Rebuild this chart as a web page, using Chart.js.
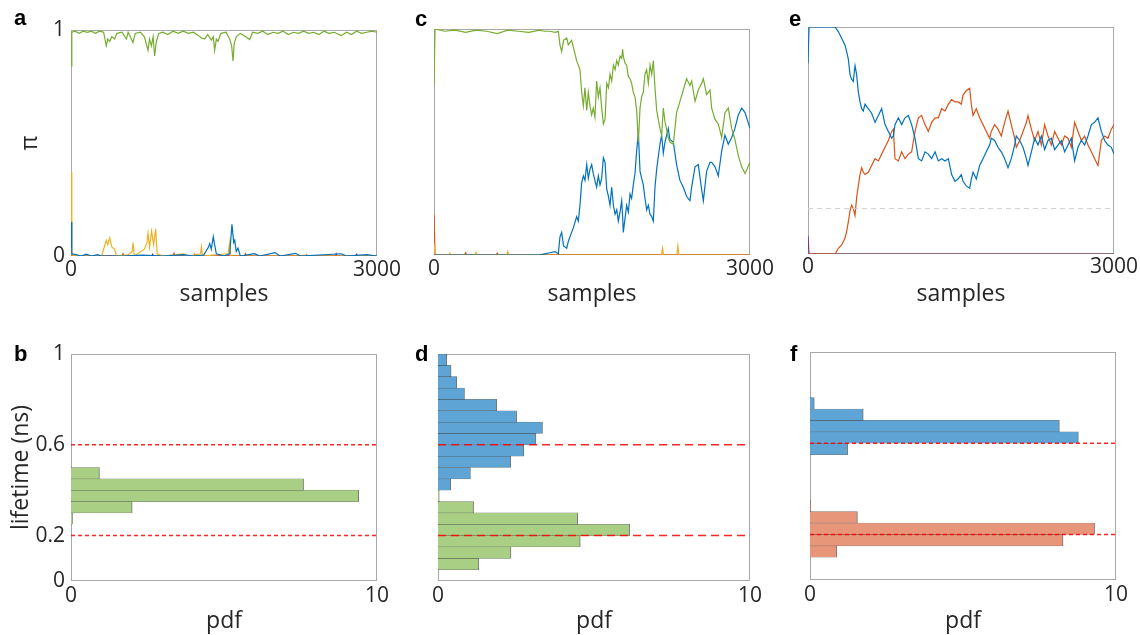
<!DOCTYPE html>
<html>
<head>
<meta charset="utf-8">
<script src="https://cdn.jsdelivr.net/npm/chart.js@4.4.1/dist/chart.umd.min.js"></script>
<style>
  html, body { margin: 0; padding: 0; background: #fff; width: 1140px; height: 635px; overflow: hidden; position: relative; }
  canvas { position: absolute; }
  .tag { position: absolute; font: bold 22px 'Liberation Sans', Arial, sans-serif; line-height: 22px; color: #000; }
</style>
</head>
<body>
<canvas id="chartA" width="410" height="320" style="left:0;top:0"></canvas>
<canvas id="chartC" width="400" height="320" style="left:380px;top:0"></canvas>
<canvas id="chartE" width="380" height="320" style="left:760px;top:0"></canvas>
<canvas id="chartB" width="400" height="340" style="left:0;top:320px"></canvas>
<canvas id="chartD" width="400" height="340" style="left:380px;top:320px"></canvas>
<canvas id="chartF" width="380" height="340" style="left:760px;top:320px"></canvas>
<div class="tag" style="left:14px;top:7px">a</div>
<div class="tag" style="left:415px;top:8px">c</div>
<div class="tag" style="left:789px;top:8px">e</div>
<div class="tag" style="left:14px;top:343px">b</div>
<div class="tag" style="left:415px;top:343px">d</div>
<div class="tag" style="left:790px;top:343px">f</div>
<script>
// ticks
const sampleTicks = [0, 3000];
const piTicks = [0, 1];
const lifeTicks = [0, 0.2, 0.6, 1];
const pdfTicks = [0, 10];
const lifetimeRefs = [0.2, 0.6];

// panel a traces
const aGreenX = [0,8,40,80,120,160,200,240,280,320,346,360,380,400,428,450,500,543,560,608,630,680,720,755,770,788,805,820,837,860,900,950,1000,1050,1100,1150,1200,1250,1278,1310,1340,1376,1395,1408,1425,1441,1470,1520,1556,1575,1588,1600,1620,1660,1700,1752,1780,1830,1880,1930,1980,2030,2080,2130,2180,2230,2280,2330,2380,2430,2480,2530,2580,2650,2700,2750,2800,2850,2900,2950,3000];
const aGreenY = [0.84,0.99,0.995,0.985,0.995,0.99,0.995,0.985,0.995,0.99,0.93,0.96,0.95,0.97,0.96,0.985,0.99,0.96,0.99,0.945,0.985,0.99,0.97,0.91,0.96,0.93,0.97,0.885,0.95,0.985,0.99,0.98,0.995,0.985,0.995,0.985,0.99,0.975,0.965,0.96,0.98,0.955,0.97,0.91,0.96,0.95,0.985,0.99,0.96,0.93,0.863,0.94,0.97,0.985,0.975,0.958,0.99,0.985,0.995,0.98,0.99,0.985,0.995,0.98,0.99,0.985,0.995,0.985,0.99,0.98,0.995,0.985,0.99,0.975,0.99,0.98,0.995,0.985,0.99,0.995,0.99];
const aBlueX = [0,8,60,100,150,200,260,300,500,700,900,1100,1200,1300,1343,1360,1375,1395,1408,1425,1500,1556,1578,1595,1605,1620,1637,1660,1800,1850,2000,2050,2200,2250,2650,2700,2900,3000];
const aBlueY = [0.15,0.01,0.005,0,0.008,0,0.006,0,0,0.004,0,0.006,0,0.004,0.035,0.055,0.03,0.085,0.05,0.01,0,0.01,0.14,0.06,0.07,0.02,0.035,0,0.01,0,0.015,0,0.012,0,0.01,0,0.006,0];
const aYellowX = [0,8,100,300,346,360,380,400,428,445,560,600,608,620,720,745,755,770,790,810,830,845,900,1100,1150,1270,1278,1290,1540,1556,1565,3000];
const aYellowY = [0.37,0.005,0,0,0.07,0.05,0.08,0.04,0.03,0,0.005,0.02,0.06,0,0.03,0.06,0.1,0.04,0.11,0.05,0.12,0.01,0,0.01,0,0.01,0.04,0,0.01,0.06,0,0];
const aOrangeX = [0,500,510,520,1000,1010,1020,1200,1210,1220,1700,1710,1720,2300,2310,2320,3000];
const aOrangeY = [0,0,0.01,0,0,0.012,0,0,0.008,0,0,0.01,0,0,0.006,0,0];
const aPurpleX = [0,10,790,800,810,2590,2600,2610,2790,2800,2810,3000];
const aPurpleY = [0.03,0,0,0.008,0,0,0.01,0,0,0.008,0,0];

// panel c traces
const cSamples = [0,10,100,200,300,400,500,600,700,800,900,1000,1050,1100,1150,1180,1196,1212,1230,1260,1275,1306,1323,1354,1370,1386,1402,1418,1433,1450,1465,1481,1497,1512,1528,1544,1560,1576,1592,1608,1624,1640,1656,1671,1687,1703,1719,1735,1750,1766,1782,1791,1797,1813,1829,1845,1861,1876,1892,1908,1924,1940,1956,1971,1987,2003,2019,2035,2051,2067,2082,2098,2114,2145,2161,2177,2193,2224,2240,2272,2303,2335,2367,2398,2430,2446,2478,2509,2541,2557,2588,2620,2636,2668,2699,2731,2762,2794,2826,2857,2889,2921,2953,3000];
const cGreen = [0.75,1.0,0.99,0.995,0.985,0.995,0.99,0.98,0.995,0.99,0.985,0.995,0.99,0.99,0.985,0.99,0.93,0.90,0.95,0.96,0.93,0.95,0.92,0.86,0.84,0.82,0.72,0.66,0.74,0.64,0.72,0.66,0.62,0.65,0.61,0.77,0.70,0.74,0.65,0.58,0.60,0.76,0.74,0.80,0.77,0.84,0.82,0.86,0.84,0.88,0.87,0.91,0.88,0.85,0.84,0.79,0.78,0.76,0.72,0.70,0.64,0.50,0.65,0.70,0.72,0.80,0.82,0.76,0.84,0.80,0.86,0.74,0.64,0.56,0.53,0.65,0.59,0.52,0.50,0.49,0.63,0.68,0.73,0.78,0.75,0.77,0.68,0.73,0.76,0.78,0.71,0.73,0.65,0.60,0.58,0.52,0.63,0.65,0.56,0.51,0.44,0.39,0.36,0.41];
const cBlue = [0,0,0,0,0,0,0,0,0,0,0,0,0.005,0.01,0.015,0.005,0.08,0.10,0.04,0.03,0.06,0.10,0.12,0.17,0.15,0.22,0.32,0.35,0.33,0.40,0.34,0.38,0.40,0.36,0.33,0.30,0.35,0.31,0.34,0.43,0.41,0.29,0.26,0.22,0.30,0.22,0.18,0.20,0.15,0.19,0.24,0.17,0.10,0.16,0.22,0.19,0.27,0.25,0.31,0.36,0.46,0.54,0.37,0.34,0.31,0.25,0.20,0.22,0.18,0.17,0.15,0.30,0.38,0.49,0.53,0.45,0.50,0.56,0.51,0.50,0.40,0.33,0.30,0.26,0.24,0.30,0.39,0.40,0.29,0.24,0.37,0.41,0.41,0.39,0.35,0.46,0.53,0.49,0.52,0.56,0.62,0.65,0.63,0.56];
const cOrangeX = [0,10,290,300,310,590,600,610,3000];
const cOrangeY = [0.18,0,0,0.01,0,0,0.008,0,0];
const cYellowX = [0,10,140,150,160,390,400,410,690,700,710,2160,2170,2180,2305,2315,2325,3000];
const cYellowY = [0.05,0,0,0.008,0,0,0.012,0,0,0.015,0,0,0.03,0,0,0.04,0,0];
const cPurpleX = [0,3000];
const cPurpleY = [0,0];

// panel e traces
const eSamples = [0,10,265,297,330,363,379,395,412,428,444,461,477,493,510,526,542,559,591,624,657,690,722,755,788,820,837,853,886,918,951,984,1016,1049,1082,1114,1147,1180,1212,1245,1278,1310,1343,1376,1408,1441,1471,1503,1520,1552,1585,1601,1618,1650,1683,1716,1748,1781,1797,1830,1863,1895,1928,1961,1993,2026,2042,2075,2108,2141,2157,2190,2222,2255,2288,2320,2353,2386,2418,2451,2484,2516,2549,2582,2614,2647,2680,2712,2745,2778,2810,2843,2876,2908,2941,2974,3000];
const eBlue = [0.84,1.0,1.0,0.98,0.95,0.92,0.89,0.86,0.79,0.77,0.76,0.83,0.79,0.715,0.67,0.64,0.63,0.66,0.64,0.62,0.58,0.61,0.64,0.57,0.54,0.51,0.52,0.57,0.60,0.57,0.60,0.61,0.57,0.51,0.42,0.41,0.45,0.44,0.42,0.45,0.41,0.42,0.41,0.42,0.35,0.32,0.33,0.35,0.32,0.30,0.29,0.33,0.36,0.33,0.39,0.42,0.45,0.48,0.51,0.50,0.47,0.45,0.42,0.38,0.42,0.48,0.52,0.50,0.47,0.42,0.39,0.45,0.51,0.48,0.52,0.46,0.50,0.51,0.46,0.48,0.50,0.45,0.48,0.51,0.41,0.47,0.50,0.48,0.52,0.57,0.58,0.60,0.54,0.50,0.48,0.47,0.44];
const eOrange = [0.0,0.0,0.0,0.025,0.04,0.07,0.10,0.14,0.19,0.215,0.20,0.17,0.25,0.30,0.35,0.38,0.36,0.35,0.36,0.39,0.42,0.41,0.44,0.47,0.50,0.54,0.55,0.42,0.41,0.45,0.42,0.44,0.45,0.54,0.60,0.61,0.57,0.54,0.58,0.60,0.60,0.64,0.63,0.66,0.68,0.67,0.67,0.66,0.70,0.72,0.73,0.66,0.61,0.64,0.60,0.57,0.54,0.51,0.54,0.57,0.55,0.52,0.58,0.63,0.57,0.51,0.47,0.50,0.54,0.58,0.61,0.55,0.50,0.54,0.48,0.57,0.52,0.48,0.54,0.51,0.48,0.52,0.51,0.47,0.58,0.54,0.50,0.52,0.48,0.45,0.42,0.39,0.50,0.52,0.51,0.55,0.57];
const ePurpleX = [0,10,3000];
const ePurpleY = [0.08,0,0];
const eGreenX = [0,3000];
const eGreenY = [0,0];
const eGuide = 0.2;

// histograms (bin centres in ns, pdf values)
const bGreenBins = [0.275,0.325,0.375,0.425,0.475];
const bGreen = [0.05,2.0,9.4,7.6,0.93];
const dBlueBins = [0.425,0.475,0.525,0.575,0.625,0.675,0.725,0.775,0.825,0.875,0.925,0.975];
const dBlue = [0.41,1.04,2.33,2.75,3.14,3.35,2.52,1.88,0.85,0.60,0.42,0.28];
const dGreenBins = [0.075,0.125,0.175,0.225,0.275,0.325,0.375];
const dGreen = [1.31,2.34,4.56,6.14,4.48,1.14,0.04];
const fBlueBins = [0.575,0.625,0.675,0.725,0.775];
const fBlue = [1.23,8.77,8.15,1.74,0.14];
const fOrangeBins = [0.125,0.175,0.225,0.275,0.325];
const fOrange = [0.88,8.27,9.30,1.55,0.02];

const BLUE = '#0072BD', ORANGE = '#D95319', YELLOW = '#EDB120', PURPLE = '#7E2F8E', GREEN = '#77AC30';

Chart.defaults.font.family = "'Open Sans', sans-serif";
Chart.defaults.color = '#262626';

// grey box round the plot area
const frame = {
  id: 'frame',
  beforeDatasetsDraw(chart) {
    const { ctx, chartArea: a } = chart;
    ctx.save();
    ctx.strokeStyle = '#a8a8a8';
    ctx.lineWidth = 1;
    ctx.strokeRect(Math.round(a.left) + 0.5, Math.round(a.top) + 0.5, Math.round(a.right - a.left) - 1, Math.round(a.bottom - a.top) - 1);
    ctx.restore();
  }
};

function pts(xs, ys) {
  return xs.map((x, i) => ({ x: x, y: ys[i] }));
}

function axis(o) {
  return {
    type: 'linear', min: o.min, max: o.max, offset: false,
    grid: { display: false, drawTicks: false },
    border: { display: false },
    ticks: { display: o.show, padding: o.pad || 0, autoSkip: false, maxRotation: 0, font: { size: 21 }, callback: v => String(v) },
    afterBuildTicks: s => { s.ticks = o.ticks.map(v => ({ value: v })); },
    afterFit: s => { if (s.isHorizontal()) s.height = o.size; else s.width = o.size; },
    title: { display: !!o.title, text: o.title || '', font: { size: 23 }, padding: o.titlePad || 0 }
  };
}

function trace(xs, ys, color) {
  return { data: pts(xs, ys), borderColor: color, borderWidth: 1.2, pointRadius: 0, tension: 0, fill: false };
}

function hist(bins, vals, fill) {
  return {
    type: 'bar', data: vals.map((v, i) => ({ x: v, y: bins[i] })),
    backgroundColor: fill, borderColor: 'rgba(0,0,0,0.55)',
    borderWidth: { top: 0.5, bottom: 0.5, right: 1, left: 0 },
    grouped: false, barPercentage: 1, categoryPercentage: 1
  };
}

function refLine(v, dash) {
  return { type: 'line', data: [{ x: pdfTicks[0], y: v }, { x: pdfTicks[1], y: v }], borderColor: 'rgba(255,0,0,0.85)', borderWidth: 1.5, borderDash: dash, pointRadius: 0, fill: false };
}

function make(id, type, datasets, pad, xs, ys, extra) {
  return new Chart(document.getElementById(id), {
    type: type,
    data: { datasets: datasets },
    options: Object.assign({
      responsive: false, animation: false, devicePixelRatio: 1,
      layout: { padding: pad },
      plugins: { legend: { display: false }, tooltip: { enabled: false } },
      scales: { x: xs, y: ys }
    }, extra || {}),
    plugins: [frame]
  });
}

// top row
make('chartA', 'line', [
  trace(aGreenX, aGreenY, GREEN),
  trace(aBlueX, aBlueY, BLUE),
  trace(aYellowX, aYellowY, YELLOW),
  trace(aOrangeX, aOrangeY, ORANGE),
  trace(aPurpleX, aPurpleY, PURPLE)
], { top: 30, right: 33, left: 0, bottom: 0 },
  axis({ min: 0, max: 3000, ticks: sampleTicks, show: true, pad: 1, size: 64, title: 'samples', titlePad: { top: 0, bottom: 12 } }),
  axis({ min: 0, max: 1, ticks: piTicks, show: true, pad: 6, size: 71, title: 'π', titlePad: { top: 17, bottom: 0 } }));

make('chartC', 'line', [
  trace(cSamples, cGreen, GREEN),
  trace(cSamples, cBlue, BLUE),
  trace(cYellowX, cYellowY, YELLOW),
  trace(cOrangeX, cOrangeY, ORANGE),
  trace(cPurpleX, cPurpleY, PURPLE)
], { top: 29, right: 30, left: 0, bottom: 0 },
  axis({ min: 0, max: 3000, ticks: sampleTicks, show: true, pad: 1, size: 65, title: 'samples', titlePad: { top: 0, bottom: 12 } }),
  axis({ min: 0, max: 1, ticks: piTicks, show: false, size: 54 }));

make('chartE', 'line', [
  { data: [{ x: sampleTicks[0], y: eGuide }, { x: sampleTicks[1], y: eGuide }], borderColor: '#cfcfcf', borderWidth: 1, borderDash: [5, 4], pointRadius: 0 },
  trace(eSamples, eBlue, BLUE),
  trace(eSamples, eOrange, ORANGE),
  trace(ePurpleX, ePurpleY, PURPLE),
  trace(eGreenX, eGreenY, GREEN)
], { top: 27, right: 26, left: 0, bottom: 0 },
  axis({ min: 0, max: 3000, ticks: sampleTicks, show: true, pad: 0, size: 66, title: 'samples', titlePad: { top: 0, bottom: 12 } }),
  axis({ min: 0, max: 1, ticks: piTicks, show: false, size: 48 }));

// bottom row
const histOpts = { indexAxis: 'y' };

make('chartB', 'bar', [
  refLine(lifetimeRefs[0], [4, 3]),
  refLine(lifetimeRefs[1], [4, 3]),
  hist(bGreenBins, bGreen, '#a9cf84')
], { top: 34, right: 23, left: 0, bottom: 0 },
  axis({ min: 0, max: 10, ticks: pdfTicks, show: true, pad: 2, size: 79, title: 'pdf', titlePad: { top: 0, bottom: 25 } }),
  axis({ min: 0, max: 1, ticks: lifeTicks, show: true, pad: 6, size: 71, title: 'lifetime (ns)', titlePad: { top: 8, bottom: 0 } }),
  histOpts);

make('chartD', 'bar', [
  refLine(lifetimeRefs[0], [8, 5]),
  refLine(lifetimeRefs[1], [8, 5]),
  hist(dBlueBins, dBlue, '#5ea5d5'),
  hist(dGreenBins, dGreen, '#a9cf84')
], { top: 34, right: 30, left: 0, bottom: 0 },
  axis({ min: 0, max: 10, ticks: pdfTicks, show: true, pad: 2, size: 79, title: 'pdf', titlePad: { top: 0, bottom: 25 } }),
  axis({ min: 0, max: 1, ticks: lifeTicks, show: false, size: 58 }),
  histOpts);

make('chartF', 'bar', [
  refLine(lifetimeRefs[0], [4, 3]),
  refLine(lifetimeRefs[1], [4, 3]),
  hist(fBlueBins, fBlue, '#5ea5d5'),
  hist(fOrangeBins, fOrange, '#e8967a')
], { top: 32, right: 24, left: 0, bottom: 0 },
  axis({ min: 0, max: 10, ticks: pdfTicks, show: true, pad: 2, size: 80, title: 'pdf', titlePad: { top: 0, bottom: 25 } }),
  axis({ min: 0, max: 1, ticks: lifeTicks, show: false, size: 50 }),
  histOpts);
</script>
</body>
</html>
